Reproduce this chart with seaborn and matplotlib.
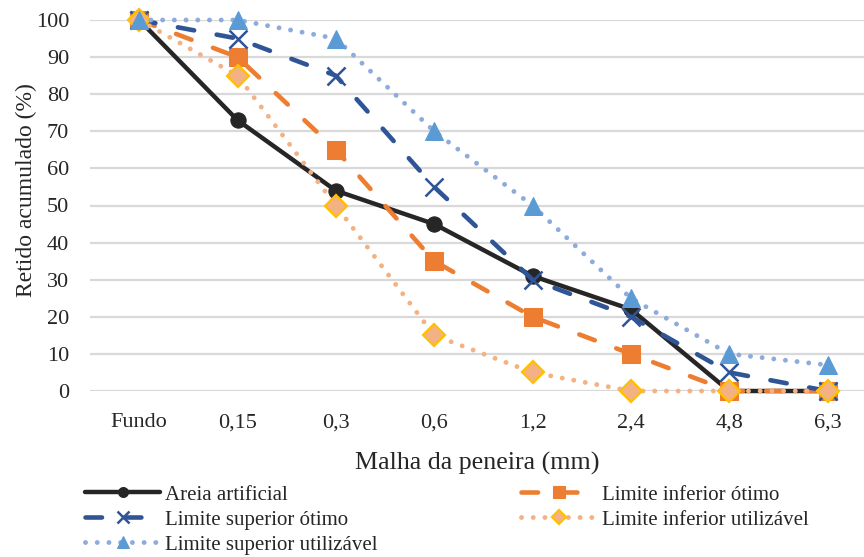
import matplotlib
matplotlib.use("Agg")
import matplotlib.pyplot as plt
import seaborn as sns
import pandas as pd

# Sieve openings (categories) and cumulative retained percentages
malha = ["Fundo", "0,15", "0,3", "0,6", "1,2", "2,4", "4,8", "6,3"]
areia_artificial = [100, 73, 54, 45, 31, 22, 0, 0]
lim_inf_otimo = [100, 90, 65, 35, 20, 10, 0, 0]
lim_sup_otimo = [100, 95, 85, 55, 30, 20, 5, 0]
lim_inf_utilizavel = [100, 85, 50, 15, 5, 0, 0, 0]
lim_sup_utilizavel = [100, 100, 95, 70, 50, 25, 10, 7]
y_ticks = [0, 10, 20, 30, 40, 50, 60, 70, 80, 90, 100]

sns.set_theme(style="white")
plt.rcParams["font.family"] = ["Liberation Serif", "DejaVu Serif"]

fig = plt.figure(figsize=(8.64, 5.57), dpi=100)
ax = fig.add_axes([90 / 864, 1 - 391 / 557, 1 - 90 / 864, (391 - 20) / 557])

series = [
    ("Areia artificial", areia_artificial,
     dict(color="#262626", lw=3.2, linestyle="-", marker="o", ms=11,
          markerfacecolor="#262626", markeredgecolor="#262626")),
    ("Limite inferior ótimo", lim_inf_otimo,
     dict(color="#ED7D31", lw=3.3, linestyle=(0, (3.6, 5.0)), dash_capstyle="round",
          marker="s", ms=13, markerfacecolor="#ED7D31", markeredgecolor="#ED7D31")),
    ("Limite superior ótimo", lim_sup_otimo,
     dict(color="#2F5597", lw=3.3, linestyle=(0, (3.6, 5.0)), dash_capstyle="round",
          marker="x", ms=13, mew=1.8, markeredgecolor="#2F5597")),
    ("Limite inferior utilizável", lim_inf_utilizavel,
     dict(color="#F4B183", lw=3.5, linestyle=(0, (0.01, 2.4)), dash_capstyle="round",
          marker="D", ms=11, mew=1.6, markerfacecolor="#F4B183", markeredgecolor="#FFC000")),
    ("Limite superior utilizável", lim_sup_utilizavel,
     dict(color="#8FAADC", lw=3.5, linestyle=(0, (0.01, 2.4)), dash_capstyle="round",
          marker="^", ms=13, markerfacecolor="#5B9BD5", markeredgecolor="#5B9BD5")),
]

for nome, valores, estilo in series:
    df = pd.DataFrame({"malha": malha, "retido": valores})
    sns.lineplot(data=df, x="malha", y="retido", ax=ax, label=nome, sort=False,
                 clip_on=False, **estilo)

ax.set_xlim(-0.5, 7.37)
ax.set_ylim(0, 100)
ax.set_yticks(y_ticks)
ax.yaxis.grid(True, color="#D9D9D9", lw=1.6)
ax.xaxis.grid(False)
for s in ax.spines.values():
    s.set_visible(False)
ax.tick_params(axis="both", length=0, labelsize=16, colors="#262626")
ax.tick_params(axis="x", pad=16)
ax.tick_params(axis="y", pad=15)
ax.set_xlabel("Malha da peneira (mm)", fontsize=18.7, color="#262626", labelpad=14)
ax.set_ylabel("Retido acumulado (%)", fontsize=17, color="#262626")
ax.yaxis.set_label_coords(-0.068, 0.542)

handles, labels = ax.get_legend_handles_labels()
ax.get_legend().remove()
order = [0, 2, 4, 1, 3]
fig.legend([handles[i] for i in order], [labels[i] for i in order],
           loc="upper left", bbox_to_anchor=(85 / 864, 1 - 485 / 557), ncol=2,
           frameon=False, fontsize=15, handlelength=3.6, handletextpad=0.25,
           columnspacing=6.9, labelspacing=0.26, borderaxespad=0, borderpad=0,
           markerscale=0.65)

fig.savefig("out.png", dpi=100)
